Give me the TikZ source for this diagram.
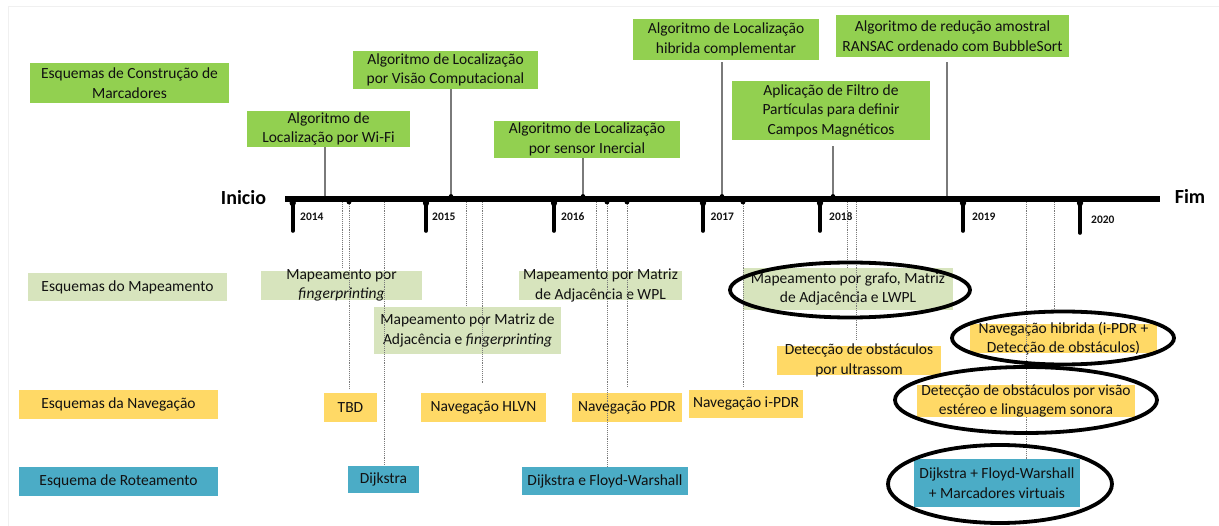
\documentclass[tikz,border=0pt]{standalone}
\usepackage{fontspec}
\setmainfont{Carlito}
\usetikzlibrary{shapes.geometric}
\definecolor{algG}{HTML}{92D050}
\definecolor{mapG}{HTML}{D7E4BD}
\definecolor{navY}{HTML}{FFD966}
\definecolor{rotB}{HTML}{4BACC6}
\definecolor{ink}{HTML}{111111}
\definecolor{wire}{HTML}{7A7A7A}
\begin{document}
\begin{tikzpicture}[x=1pt,y=-1pt,
  txt/.style={font=\fontsize{15.5}{19.5}\selectfont, text=ink, align=center, inner sep=0pt},
  alg/.style={fill=algG, inner sep=0pt, outer sep=0pt},
  mapb/.style={fill=mapG, inner sep=0pt, outer sep=0pt},
  navb/.style={fill=navY, inner sep=0pt, outer sep=0pt},
  rotb/.style={fill=rotB, inner sep=0pt, outer sep=0pt},
  yr/.style={font=\fontsize{11.5}{13}\selectfont\bfseries, text=ink, inner sep=0pt, anchor=west},
  endlbl/.style={font=\fontsize{20}{24}\selectfont\bfseries, text=black, inner sep=0pt},
  tick/.style={line width=3.6pt, line cap=round},
  stem/.style={draw=wire, line width=1.2pt},
  link/.style={draw=wire, line width=0.9pt, densely dotted},
  ring/.style={ellipse, draw=black, line width=3.8pt, inner sep=0pt, fill=none}]

\useasboundingbox (0,0) rectangle (1219,526);

% faint page frame
\draw[gray!12, line width=1pt] (8,526) -- (8,7) -- (1219,7);

% ---------- row headers ----------
\node[alg, minimum width=199pt, minimum height=40pt,
  label={[txt]center:{Esquemas de Construção de\\Marcadores}}] (hcon) at (129.5,83) {};
\node[mapb, minimum width=199pt, minimum height=28pt,
  label={[txt]center:{Esquemas do Mapeamento}}] (hmap) at (127.5,287) {};
\node[navb, minimum width=199pt, minimum height=29pt,
  label={[txt]center:{Esquemas da Navegação}}] (hnav) at (118.5,404.5) {};
\node[rotb, minimum width=199pt, minimum height=29pt,
  label={[txt]center:{Esquema de Roteamento}}] (hrot) at (118.5,481.5) {};

% ---------- time axis ----------
\coordinate (ax0) at (285,199);
\coordinate (ax1) at (1160,199);
\draw[line width=5.6pt] (ax0) -- (ax1);
\node[endlbl] (ini) at (243.5,198) {Inicio};
\node[endlbl] (fim) at (1190,196) {Fim};

% year ticks
\foreach \nm/\x/\len in {t14/292.7/231, t15/426/231, t16/554/231, t17/703/231,
                         t18/820/231, t19/963/231, t20/1080/233}{
  \coordinate (\nm) at (\x,199);
  \draw[tick] (\nm) -- (\x,\len);
  \fill (\x,203) circle (3.2);
}
\node[yr] (y14) at (300,217) {2014};
\node[yr] (y15) at (432,217) {2015};
\node[yr] (y16) at (561,217) {2016};
\node[yr] (y17) at (710.5,217) {2017};
\node[yr] (y18) at (829,217) {2018};
\node[yr] (y19) at (972,217) {2019};
\node[yr] (y20) at (1091,220) {2020};

% ---------- marker-construction algorithms (above the axis) ----------
\node[alg, minimum width=163pt, minimum height=36pt,
  label={[txt]center:{Algoritmo de\\Localização por Wi-Fi}}] (wifi) at (328.5,129) {};
\node[alg, minimum width=185pt, minimum height=38pt,
  label={[txt]center:{Algoritmo de Localização\\por Visão Computacional}}] (visao) at (445.5,70) {};
\node[alg, minimum width=186pt, minimum height=37pt,
  label={[txt]center:{Algoritmo de Localização\\por sensor Inercial}}] (inerc) at (587,139.5) {};
\node[alg, minimum width=186pt, minimum height=41pt,
  label={[txt]center:{Algoritmo de Localização\\hibrida complementar}}] (hibr) at (726,39.5) {};
\node[alg, minimum width=198pt, minimum height=59pt,
  label={[txt]center:{Aplicação de Filtro de\\Partículas para definir\\Campos Magnéticos}}] (filtro) at (831,110.5) {};
\node[alg, minimum width=233pt, minimum height=42pt,
  label={[txt]center:{Algoritmo de redução amostral\\RANSAC ordenado com BubbleSort}}] (ransac) at (952.5,36) {};

% points on the top edge of the axis
\coordinate (a1) at (325,196.5);
\coordinate (a2) at (451,196.5);
\coordinate (a3) at (583,196.5);
\coordinate (a4) at (722,196.5);
\coordinate (a5) at (833,196.5);
\coordinate (a6) at (947,196.5);
\draw[stem] (a1) -- (a1 |- wifi.south);
\draw[stem] (a2) -- (a2 |- visao.south);
\draw[stem] (a3) -- (a3 |- inerc.south);
\draw[stem, shorten >=2pt] (a4) -- (a4 |- hibr.south);
\draw[stem, shorten >=6pt] (a5) -- (a5 |- filtro.south);
\draw[stem, shorten >=5pt] (a6) -- (a6 |- ransac.south);
\foreach \p in {a2,a3,a4,a5}{ \fill (\p) circle (2.4); }

% ---------- mapping schemes ----------
\node[mapb, minimum width=161pt, minimum height=29pt,
  label={[txt]center:{Mapeamento por\\\textit{fingerprinting}}}] (mfing) at (341.5,285.5) {};
\node[mapb, minimum width=187pt, minimum height=47pt,
  label={[txt]center:{Mapeamento por Matriz de\\Adjacência e \textit{fingerprinting}}}] (mmat) at (467.5,330.5) {};
\node[mapb, minimum width=163pt, minimum height=29pt,
  label={[txt]center:{Mapeamento por Matriz\\de Adjacência e WPL}}] (mwpl) at (600.5,285.5) {};
\node[mapb, minimum width=210pt, minimum height=42pt,
  label={[txt]center:{Mapeamento por grafo, Matriz\\de Adjacência e LWPL}}] (mgraf) at (848,289) {};

% ---------- navigation schemes ----------
\node[navb, minimum width=53pt, minimum height=29pt,
  label={[txt]center:{TBD}}] (tbd) at (350.5,407.5) {};
\node[navb, minimum width=125pt, minimum height=29pt,
  label={[txt]center:{Navegação HLVN}}] (hlvn) at (483.5,407.5) {};
\node[navb, minimum width=110pt, minimum height=29pt,
  label={[txt]center:{Navegação PDR}}] (pdr) at (627,407.5) {};
\node[navb, minimum width=114pt, minimum height=28pt,
  label={[txt]center:{Navegação i-PDR}}] (ipdr) at (746,404) {};
\node[navb, minimum width=164pt, minimum height=29pt,
  label={[txt]center:{Detecção de obstáculos\\por ultrassom}}] (ultra) at (859,360.5) {};
\node[navb, minimum width=187pt, minimum height=29pt,
  label={[txt]center:{Navegação hibrida (i-PDR +\\Detecção de obstáculos)}}] (nhib) at (1063.5,338.5) {};

% ---------- routing schemes ----------
\node[rotb, minimum width=71pt, minimum height=27pt,
  label={[txt]center:{Dijkstra}}] (dij) at (383.5,479.5) {};
\node[rotb, minimum width=166pt, minimum height=28pt,
  label={[txt]center:{Dijkstra e Floyd-Warshall}}] (dfw) at (605,481) {};
\node[rotb, minimum width=166pt, minimum height=48pt,
  label={[txt]center:{Dijkstra + Floyd-Warshall\\+ Marcadores virtuais}}] (dfwm) at (997,483) {};

% ---------- dotted links from the axis (bottom edge) ----------
\coordinate (b1) at (342,202);
\coordinate (b2) at (349,202);
\coordinate (b3) at (384,202);
\coordinate (b4) at (466,202);
\coordinate (b5) at (482,202);
\coordinate (b6) at (596,202);
\coordinate (b7) at (607,202);
\coordinate (b8) at (627,202);
\coordinate (b9) at (743,202);
\coordinate (b10) at (847,202);
\coordinate (b11) at (856,202);
\coordinate (b12) at (1026,202);
\coordinate (b13) at (1054,202);
\draw[link, shorten >=3pt] (b1) -- (b1 |- mfing.north);
\draw[link, shorten >=3pt] (b2) -- (b2 |- tbd.north);
\draw[link] (b3) -- (b3 |- dij.north);
\draw[link, shorten >=2pt] (b4) -- (b4 |- mmat.north);
\draw[link, shorten >=10pt] (b5) -- (b5 |- hlvn.north);
\draw[link, shorten >=4pt] (b6) -- (b6 |- mwpl.north);
\draw[link] (b7) -- (b7 |- dfw.north);
\draw[link, shorten >=6pt] (b8) -- (b8 |- pdr.north);
\draw[link, shorten >=2pt] (b9) -- (b9 |- ipdr.north);
\draw[link] (b10) -- (b10 |- mgraf.north);
\draw[link, shorten >=6pt] (b11) -- (b11 |- ultra.north);
\draw[link] (b12) -- (b12 |- dfwm.north);
\draw[link, shorten >=11pt] (b13) -- (b13 |- nhib.north);
\foreach \p in {b2,b7,b8,b9}{ \fill (\p) circle (2.4); }

% stereo-vision navigation box sits over the long link
\node[navb, minimum width=218pt, minimum height=32pt,
  label={[txt]center:{Detecção de obstáculos por visão\\estéreo e linguagem sonora}}] (nvis) at (1026,401) {};

% ---------- highlight rings ----------
\node[ring, minimum width=240pt, minimum height=55pt] (rgraf) at (850,290) {};
\node[ring, minimum width=222pt, minimum height=53pt] (rhib) at (1063,338) {};
\node[ring, minimum width=262pt, minimum height=66pt] (rvis) at (1026,400) {};
\node[ring, minimum width=224pt, minimum height=78pt] (rdfw) at (1000,484) {};

\end{tikzpicture}
\end{document}
